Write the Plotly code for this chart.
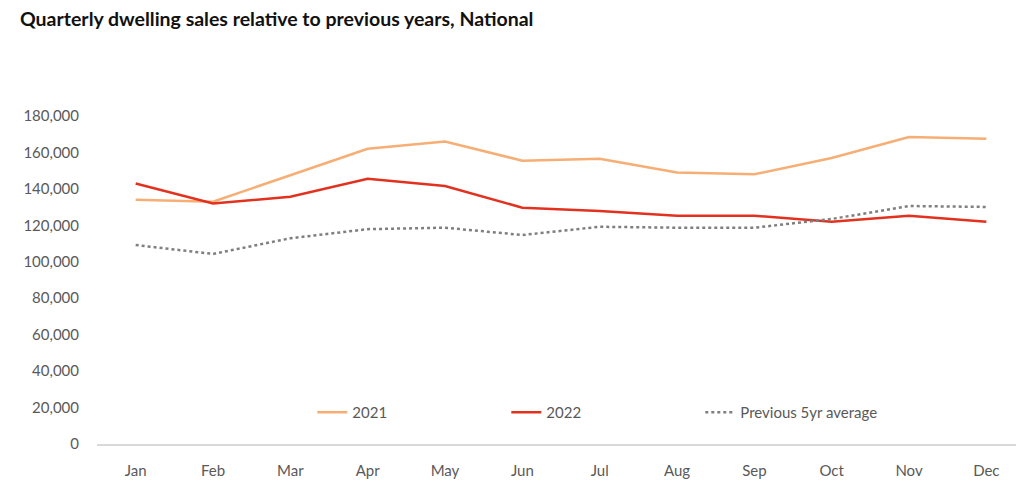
import plotly.graph_objects as go

months = ["Jan", "Feb", "Mar", "Apr", "May", "Jun", "Jul", "Aug", "Sep", "Oct", "Nov", "Dec"]
sales_2021 = [134000, 133000, 147500, 162000, 166000, 155500, 156500, 149000, 148000, 157000, 168500, 167500]
sales_2022 = [143000, 132000, 135700, 145600, 141600, 129700, 127900, 125300, 125300, 122000, 125300, 122000]
avg_5yr = [109200, 104300, 112900, 117900, 118700, 114700, 119200, 118700, 118700, 123500, 130600, 130100]
y_ticks = [0, 20000, 40000, 60000, 80000, 100000, 120000, 140000, 160000, 180000]

fig = go.Figure()
fig.add_trace(go.Scatter(x=months, y=sales_2021, name="2021", mode="lines",
                         line=dict(color="#F7AE74", width=2.5)))
fig.add_trace(go.Scatter(x=months, y=sales_2022, name="2022", mode="lines",
                         line=dict(color="#E2321F", width=2.5)))
fig.add_trace(go.Scatter(x=months, y=avg_5yr, name="Previous 5yr average", mode="lines",
                         line=dict(color="#7F7F7F", width=2.5, dash="dot")))

fig.update_layout(
    width=1024, height=491,
    plot_bgcolor="white", paper_bgcolor="white",
    margin=dict(l=89, r=7, t=108, b=55),
    title=dict(text="<b>Quarterly dwelling sales relative to previous years, National</b>",
               x=0.0117, xanchor="left", y=0.978, yanchor="middle",
               font=dict(family="Lato", size=19.5, color="#111111")),
    font=dict(family="Lato", color="#595959", size=15),
    showlegend=True,
    legend=dict(orientation="h", x=0.232, xanchor="left", y=0.096, yanchor="middle",
                bgcolor="rgba(0,0,0,0)", font=dict(size=15, color="#595959"),
                entrywidth=149, entrywidthmode="pixels"),
    xaxis=dict(showgrid=False, showline=True, linecolor="#D9D9D9", linewidth=2,
               ticks="", tickfont=dict(size=15, color="#595959"), ticklabelstandoff=12,
               range=[-0.5, 11.5]),
    yaxis=dict(showgrid=False, showline=False, zeroline=False, range=[0, 180000],
               tickvals=y_ticks, tickformat=",", tickfont=dict(size=15, color="#595959"),
               ticklabelstandoff=17),
)

fig.write_html("out.html")
